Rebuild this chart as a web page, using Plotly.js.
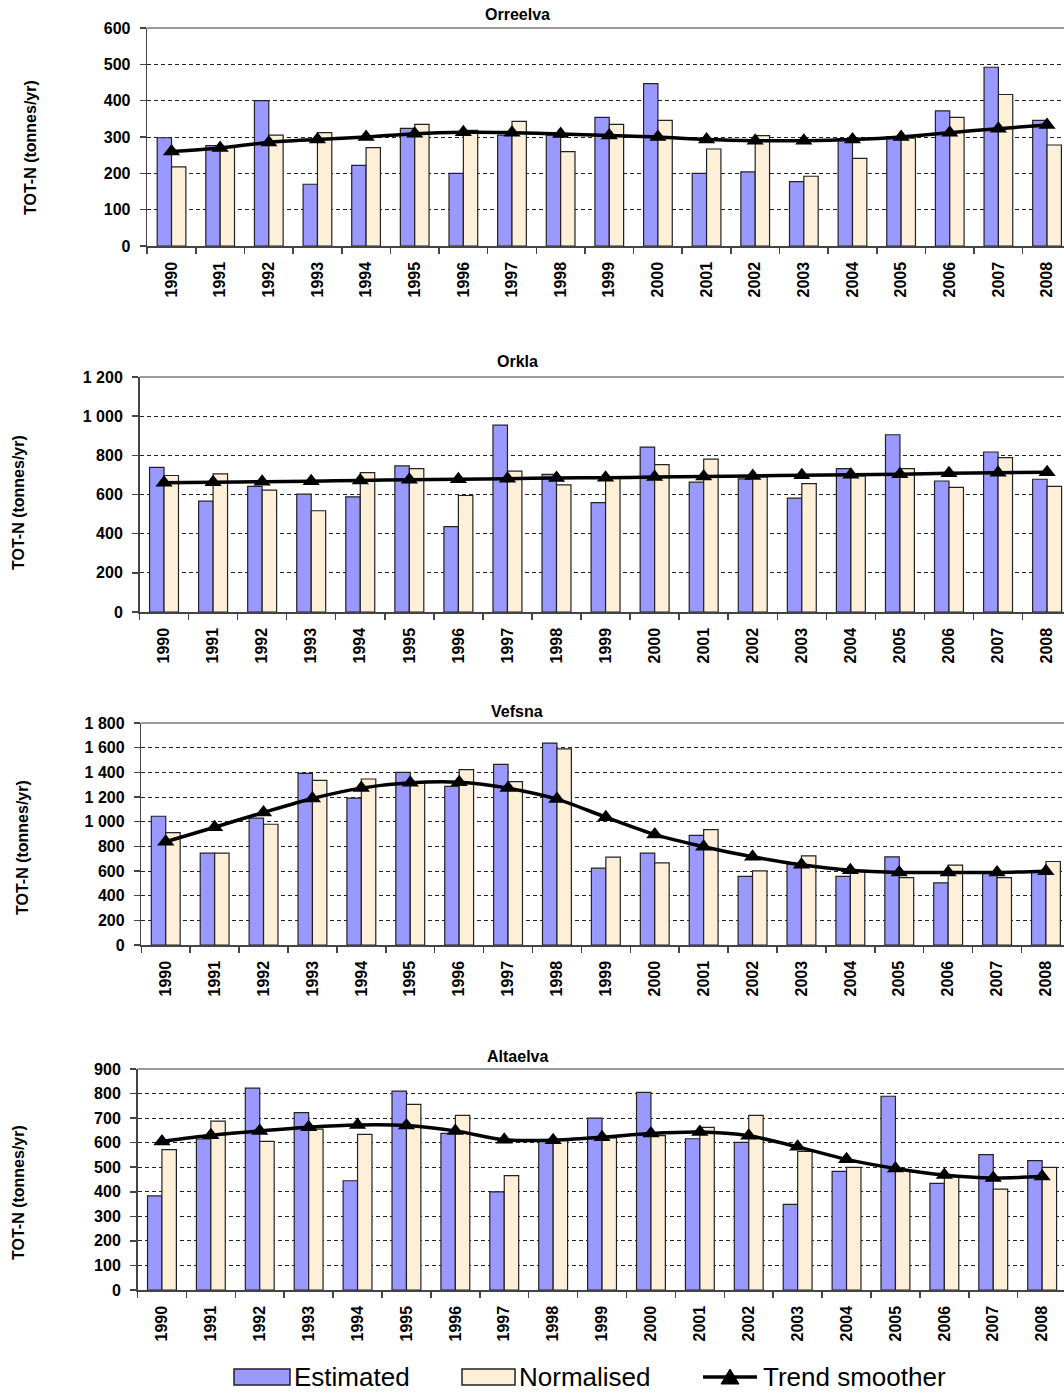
<!DOCTYPE html>
<html>
<head>
<meta charset="utf-8">
<script src="https://cdn.plot.ly/plotly-3.0.1.min.js"></script>
<style>
html,body{margin:0;padding:0;background:#fff;overflow:hidden;}
#chart{width:1064px;height:1393px;}
</style>
</head>
<body>
<div id="chart"></div>
<script>
// ---------------- DATA ----------------
const years = ['1990','1991','1992','1993','1994','1995','1996','1997','1998','1999','2000','2001','2002','2003','2004','2005','2006','2007','2008'];

const seriesNames = ['Estimated', 'Normalised', 'Trend smoother'];
const panelTitles = ['Orreelva', 'Orkla', 'Vefsna', 'Altaelva'];
const yAxisTitle = 'TOT-N (tonnes/yr)';

const orreelvaEst   = [298, 276, 400, 170, 222, 324, 200, 305, 305, 354, 447, 200, 204, 177, 295, 301, 372, 492, 346];
const orreelvaNorm  = [218, 272, 305, 312, 271, 335, 318, 343, 260, 335, 346, 267, 304, 192, 241, 297, 354, 417, 278];
const orreelvaTrend = [260, 270, 285, 293, 300, 309, 313, 312, 308, 304, 300, 293, 290, 290, 293, 300, 312, 323, 333];

const orklaEst   = [739, 566, 642, 602, 588, 746, 436, 954, 703, 559, 842, 663, 680, 581, 732, 905, 669, 817, 678];
const orklaNorm  = [697, 705, 622, 517, 712, 732, 595, 719, 649, 690, 753, 781, 690, 656, 695, 732, 636, 788, 642];
const orklaTrend = [660, 662, 665, 668, 672, 675, 678, 681, 684, 686, 689, 692, 695, 698, 701, 704, 708, 711, 714];

const vefsnaEst   = [1044, 745, 1028, 1392, 1191, 1400, 1286, 1465, 1637, 623, 745, 889, 557, 660, 557, 715, 503, 593, 593];
const vefsnaNorm  = [911, 745, 979, 1335, 1346, 1320, 1422, 1324, 1590, 712, 666, 935, 601, 723, 606, 546, 647, 546, 677];
const vefsnaTrend = [837, 955, 1075, 1188, 1272, 1315, 1320, 1272, 1183, 1036, 895, 797, 715, 650, 606, 588, 588, 588, 598];

const altaEst   = [383, 615, 822, 722, 445, 810, 638, 400, 605, 700, 805, 616, 601, 349, 483, 789, 434, 551, 527];
const altaNorm  = [572, 688, 605, 655, 634, 756, 711, 466, 610, 619, 629, 662, 711, 564, 499, 490, 462, 411, 499];
const altaTrend = [605, 630, 648, 663, 672, 670, 648, 612, 610, 622, 637, 643, 628, 583, 532, 495, 468, 456, 462];

const yMax  = [600, 1200, 1800, 900];
const yStep = [100, 200, 200, 100];

// ---------------- LAYOUT HELPERS ----------------
const W = 1064, H = 1393;
const fx = p => p / W;
const fy = p => 1 - p / H;

const estSeries   = [orreelvaEst, orklaEst, vefsnaEst, altaEst];
const normSeries  = [orreelvaNorm, orklaNorm, vefsnaNorm, altaNorm];
const trendSeries = [orreelvaTrend, orklaTrend, vefsnaTrend, altaTrend];

// pixel geometry of each panel
const geom = [
  {left:147.2, catw:48.64, top:28,   bottom:246,  titleY:15,   ytX:30, ytY:148},
  {left:139.5, catw:49.06, top:377,  bottom:612,  titleY:362,  ytX:19, ytY:503},
  {left:141.3, catw:48.9,  top:723,  bottom:945,  titleY:711,  ytX:22, ytY:848},
  {left:137.5, catw:48.9,  top:1069, bottom:1290, titleY:1056, ytX:18, ytY:1193}
];

const FONT = 'Liberation Sans, Arial, Helvetica, sans-serif';
const ESTC = '#9999FF';
const NORMC = '#FDEFD8';

const traces = [];
const layout = {
  width: W, height: H,
  margin: {l:0, r:0, t:0, b:0},
  paper_bgcolor: '#fff', plot_bgcolor: 'rgba(0,0,0,0)',
  barmode: 'group', bargap: 0.41, bargroupgap: 0,
  separators: '. ',
  showlegend: false,
  font: {family: FONT, color: '#000'},
  shapes: [], annotations: []
};

geom.forEach((g, i) => {
  const k = i === 0 ? '' : String(i + 1);
  const xa = 'x' + k, ya = 'y' + k;
  traces.push({
    type:'bar', name: seriesNames[0], x: years, y: estSeries[i], xaxis: xa, yaxis: ya,
    marker: {color: ESTC, line: {color: '#222', width: 1.2}}, hoverinfo: 'y'
  });
  traces.push({
    type:'bar', name: seriesNames[1], x: years, y: normSeries[i], xaxis: xa, yaxis: ya,
    marker: {color: NORMC, line: {color: '#222', width: 1.2}}, hoverinfo: 'y'
  });
  traces.push({
    type:'scatter', mode:'lines+markers', name: seriesNames[2], x: years, y: trendSeries[i], xaxis: xa, yaxis: ya,
    line: {color: '#000', width: 3.5, shape: 'spline', smoothing: 0.8},
    marker: {symbol: 'triangle-up', size: 15, color: '#000'}, hoverinfo: 'y'
  });

  layout['xaxis' + k] = {
    type: 'category', anchor: ya,
    domain: [fx(g.left), 1],
    range: [-0.5, -0.5 + (W - g.left) / g.catw],
    tickangle: -90, tickson: 'boundaries', ticks: 'outside', ticklen: 6, tickwidth: 1.5, tickcolor: '#444',
    ticklabelstandoff: 8,
    showline: true, linecolor: '#444', linewidth: 1.5,
    showgrid: false, zeroline: false,
    tickfont: {family: FONT, size: 16, weight: 'bold', color: '#000'},
    fixedrange: true
  };
  layout['yaxis' + k] = {
    anchor: xa,
    domain: [fy(g.bottom), fy(g.top)],
    range: [0, yMax[i]], tick0: 0, dtick: yStep[i], tickformat: ',d',
    ticks: 'outside', ticklen: 6, tickwidth: 1.5, tickcolor: '#444', ticklabelstandoff: 6,
    showline: true, linecolor: '#444', linewidth: 1.5,
    showgrid: true, gridcolor: '#222', gridwidth: 1, griddash: '4px,3px',
    zeroline: false,
    tickfont: {family: FONT, size: 16, weight: 'bold', color: '#000'},
    fixedrange: true
  };
  // plot-area top border
  layout.shapes.push({type:'line', xref: xa + ' domain', yref: ya + ' domain', x0:0, x1:1, y0:1, y1:1,
    line:{color:'#9a9a9a', width:2}});
  // panel title
  layout.annotations.push({text: panelTitles[i], xref:'paper', yref:'paper', x: fx(517), y: fy(g.titleY),
    xanchor:'center', yanchor:'middle', showarrow:false,
    font:{family: FONT, size: 16, weight:'bold', color:'#000'}});
  // y axis title
  layout.annotations.push({text: yAxisTitle, xref:'paper', yref:'paper', x: fx(g.ytX), y: fy(g.ytY),
    xanchor:'center', yanchor:'middle', textangle:-90, showarrow:false,
    font:{family: FONT, size: 16, weight:'bold', color:'#000'}});
});

// ---------------- LEGEND (drawn) ----------------
const LY = 1377;
layout.shapes.push({type:'rect', xref:'paper', yref:'paper', x0:fx(234), x1:fx(290), y0:fy(1385), y1:fy(1369),
  fillcolor: ESTC, line:{color:'#222', width:1.5}});
layout.shapes.push({type:'rect', xref:'paper', yref:'paper', x0:fx(462), x1:fx(515), y0:fy(1385), y1:fy(1369),
  fillcolor: NORMC, line:{color:'#222', width:1.5}});
layout.shapes.push({type:'line', xref:'paper', yref:'paper', x0:fx(703), x1:fx(757), y0:fy(LY), y1:fy(LY),
  line:{color:'#000', width:3.5}});
layout.shapes.push({type:'path', xref:'paper', yref:'paper',
  path: `M ${fx(721)},${fy(1384)} L ${fx(739)},${fy(1384)} L ${fx(730)},${fy(1369)} Z`,
  fillcolor:'#000', line:{color:'#000', width:1}});
[[292, seriesNames[0]], [517, seriesNames[1]], [761, seriesNames[2]]].forEach(([px, t]) => {
  layout.annotations.push({text: t, xref:'paper', yref:'paper', x: fx(px), y: fy(LY),
    xanchor:'left', yanchor:'middle', showarrow:false,
    font:{family: FONT, size: 26, color:'#000'}});
});

Plotly.newPlot('chart', traces, layout, {displayModeBar: false, staticPlot: true});
</script>
</body>
</html>
